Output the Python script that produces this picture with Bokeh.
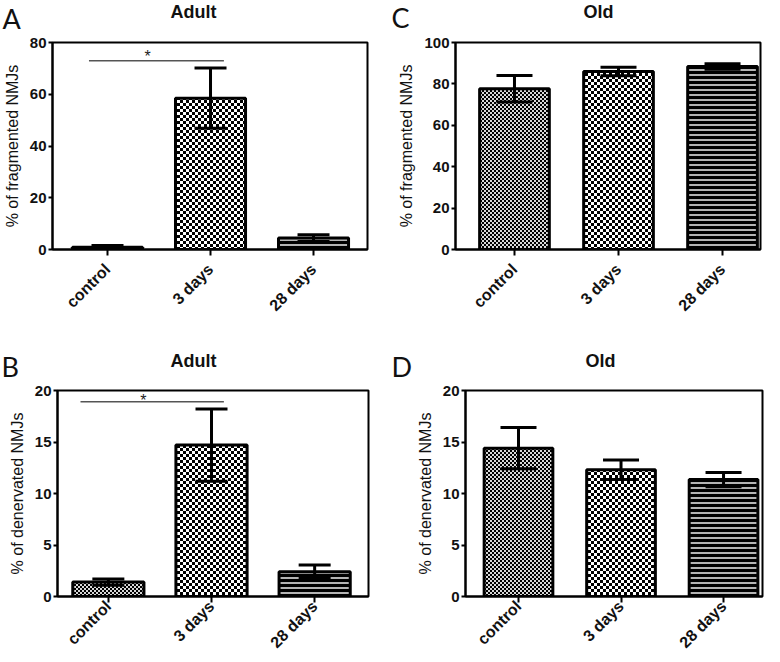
import base64
from math import pi
from bokeh.plotting import figure
from bokeh.models import (ColumnDataSource, Whisker, TeeHead, FixedTicker, Label,
                          Range1d, ImageURLTexture)
from bokeh.core.properties import value
from bokeh.layouts import column, row
from bokeh.embed import file_html
from bokeh.resources import INLINE

# ---------------- data ----------------
categories = ["control", "3 days", "28 days"]

frag_adult_mean = [0.9, 58.5, 4.4]
frag_adult_sem = [0.6, 11.6, 1.3]
frag_old_mean = [77.6, 86.0, 88.4]
frag_old_sem = [6.4, 2.1, 1.3]
den_adult_mean = [1.4, 14.7, 2.4]
den_adult_sem = [0.3, 3.5, 0.65]
den_old_mean = [14.4, 12.3, 11.35]
den_old_sem = [2.0, 0.95, 0.7]

frag_adult_ticks = [0, 20, 40, 60, 80]
frag_old_ticks = [0, 20, 40, 60, 80, 100]
den_ticks = [0, 5, 10, 15, 20]

# significance brackets: from category, to category, height
sig_frag_adult = [-0.18, 1.13, 72.9]
sig_den_adult = [-0.27, 1.12, 18.9]

# ---------------- styles ----------------
FONT = "Liberation Sans"


def checker_url(cell, dark, light):
    n = 2 * cell
    svg = (f'<svg xmlns="http://www.w3.org/2000/svg" width="{n}" height="{n}" '
           f'shape-rendering="crispEdges">'
           f'<rect width="{n}" height="{n}" fill="{light}"/>'
           f'<rect width="{cell}" height="{cell}" fill="{dark}"/>'
           f'<rect x="{cell}" y="{cell}" width="{cell}" height="{cell}" fill="{dark}"/></svg>')
    return "data:image/svg+xml;base64," + base64.b64encode(svg.encode()).decode()


fine_tex = ImageURLTexture(url=checker_url(2, "#000000", "#d8d8d8"))
coarse_tex = ImageURLTexture(url=checker_url(3, "#000000", "#ffffff"))

bar_styles = [
    dict(fill_color="white", hatch_pattern=value("fine"), hatch_extra={"fine": fine_tex}),
    dict(fill_color="white", hatch_pattern=value("coarse"), hatch_extra={"coarse": coarse_tex}),
    dict(fill_color="#b4b4b4", hatch_pattern="horizontal_line", hatch_scale=5,
         hatch_weight=3, hatch_color="black"),
]


def header(W, H, title, title_xy, letter, letter_xy):
    # header strip: data units equal pixels; positions are (left, middle) from the top
    h = figure(width=W, height=H, x_range=Range1d(0, W), y_range=Range1d(0, H),
               output_backend="svg", toolbar_location=None, title=None,
               x_axis_type=None, y_axis_type=None, min_border=0, frame_align=False)
    h.xgrid.visible = False
    h.ygrid.visible = False
    h.outline_line_color = None
    h.add_layout(Label(x=title_xy[0], y=H - title_xy[1], text=title,
                       text_align="left", text_baseline="middle",
                       text_font=FONT, text_font_style="bold",
                       text_font_size="18px", text_color="#111111"))
    h.add_layout(Label(x=letter_xy[0], y=H - letter_xy[1], text=letter,
                       text_align="left", text_baseline="middle",
                       text_font="Lato", text_font_size="27px", text_color="#111111"))
    return h


def make_panel(means, sems, ticks, ymax, xr, bar_w, size, borders, xstand, ylabel,
               cap, sig=None, star=None):
    left, right, top, bottom = borders
    W, H = size
    p = figure(width=W, height=H, x_range=Range1d(*xr), y_range=Range1d(0, ymax),
               output_backend="svg", toolbar_location=None, title=None,
               min_border_left=left, min_border_right=right,
               min_border_top=top, min_border_bottom=bottom, frame_align=False)
    p.xgrid.visible = False
    p.ygrid.visible = False
    p.outline_line_color = "black"
    p.outline_line_width = 2
    p.background_fill_color = "white"
    p.border_fill_color = "white"

    for i in range(len(categories)):
        src = ColumnDataSource(dict(x=[i], top=[means[i]]))
        p.vbar(x="x", top="top", bottom=0, width=bar_w, source=src,
               line_color="black", line_width=3, **bar_styles[i])

    wsrc = ColumnDataSource(dict(
        x=list(range(len(categories))),
        upper=[m + s for m, s in zip(means, sems)],
        lower=[m - s for m, s in zip(means, sems)]))
    p.add_layout(Whisker(base="x", upper="upper", lower="lower", source=wsrc,
                         line_color="black", line_width=3, level="annotation",
                         upper_head=TeeHead(size=cap, line_width=3, line_color="black"),
                         lower_head=TeeHead(size=cap, line_width=3, line_color="black")))

    if sig is not None:
        p.segment(x0=[sig[0]], y0=[sig[2]], x1=[sig[1]], y1=[sig[2]],
                  line_color="#555555", line_width=1.5)
        p.add_layout(Label(x=star[0], y=sig[2], y_offset=star[1], text="*",
                           text_align="center", text_baseline="alphabetic",
                           text_font=FONT, text_font_size="16px", text_color="#222222"))

    xa = p.xaxis[0]
    xa.ticker = FixedTicker(ticks=list(range(len(categories))))
    xa.major_label_overrides = {i: c for i, c in enumerate(categories)}
    xa.major_label_orientation = pi / 4
    xa.major_label_text_font = FONT
    xa.major_label_text_font_style = "bold"
    xa.major_label_text_font_size = "16px"
    xa.major_label_text_color = "#111111"
    xa.major_label_standoff = xstand
    xa.major_tick_out = 6
    xa.major_tick_in = 0
    xa.minor_tick_line_color = None
    xa.axis_line_width = 2
    xa.major_tick_line_width = 2

    ya = p.yaxis[0]
    ya.ticker = FixedTicker(ticks=ticks)
    ya.major_label_text_font = FONT
    ya.major_label_text_font_style = "bold"
    ya.major_label_text_font_size = "15px"
    ya.major_label_text_color = "#111111"
    ya.major_label_standoff = 2
    ya.major_tick_out = 4
    ya.major_tick_in = 0
    ya.minor_tick_line_color = None
    ya.axis_line_width = 2
    ya.major_tick_line_width = 2
    ya.axis_label = ylabel
    ya.axis_label_text_font = FONT
    ya.axis_label_text_font_style = "normal"
    ya.axis_label_text_font_size = "16px"
    ya.axis_label_text_color = "#111111"
    ya.axis_label_standoff = 6
    return p


# top row: header 34 px + panel 297 px ; bottom row: header 51 px + panel 278 px
hA = header(390, 34, "Adult", (170, 11), "A", (2, 17.5))
pA = make_panel(frag_adult_mean, frag_adult_sem, frag_adult_ticks, 80, (-0.534, 2.524), 0.68,
                (390, 297), (52, 23, 8, 82), 11, "% of fragmented NMJs", 32,
                sig_frag_adult, (0.39, 4))
hC = header(388, 34, "Old", (193, 11), "C", (1, 17))
pC = make_panel(frag_old_mean, frag_old_sem, frag_old_ticks, 100, (-0.567, 2.365), 0.67,
                (388, 297), (65, 18, 8, 82), 11, "% of fragmented NMJs", 36)
hB = header(390, 51, "Adult", (170, 29), "B", (1, 34.5))
pB = make_panel(den_adult_mean, den_adult_sem, den_ticks, 20, (-0.493, 2.522), 0.69,
                (390, 278), (57, 22, 8, 62), 1, "% of denervated NMJs", 32,
                sig_den_adult, (0.34, 1))
hD = header(388, 51, "Old", (195, 29), "D", (1, 34.5))
pD = make_panel(den_old_mean, den_old_sem, den_ticks, 20, (-0.517, 2.38), 0.67,
                (388, 278), (75, 16, 8, 62), 1, "% of denervated NMJs", 36)

layout = column(row(column(hA, pA), column(hC, pC)), row(column(hB, pB), column(hD, pD)))
open("out.html", "w").write(file_html(layout, INLINE))
